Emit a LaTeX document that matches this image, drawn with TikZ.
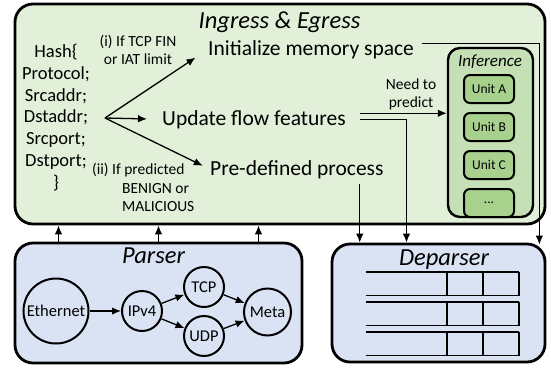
\documentclass[tikz,border=0pt]{standalone}
\usepackage{fontspec}
\setmainfont{Carlito}
\usetikzlibrary{arrows.meta,positioning}

\definecolor{ingreen}{HTML}{E2F0D9}
\definecolor{infgreen}{HTML}{C5E0B4}
\definecolor{unitgreen}{HTML}{A9D18E}
\definecolor{parblue}{HTML}{DAE3F3}

\begin{document}
\begin{tikzpicture}[x=1pt,y=-1pt,
    box/.style={draw,line width=2.8pt,rounded corners=18pt},
    title/.style={font=\fontsize{24.5}{29}\selectfont\itshape,anchor=base},
    txt/.style={font=\fontsize{21.5}{26}\selectfont,inner sep=0pt,anchor=base west},
    note/.style={font=\fontsize{15.5}{18.5}\selectfont,inner sep=0pt},
    unit/.style={draw,line width=2pt,fill=unitgreen,rounded corners=6pt,
        minimum width=50pt,minimum height=28pt,font=\fontsize{13.5}{16}\selectfont},
    hdr/.style={draw,circle,line width=2pt,inner sep=0pt,font=\fontsize{16.5}{20}\selectfont},
    arr/.style={-{Latex[length=9pt,width=7.5pt]},line width=1.3pt},
    tab/.style={line width=1.6pt}]

\useasboundingbox (0,0) rectangle (551,368);

% ingress & egress
\node[box,fill=ingreen,minimum width=530pt,minimum height=220pt] (ig) at (280,114) {};
\node[title] (igt) at (279.5,28) {Ingress \& Egress};
\node[align=center,inner sep=0pt,font=\fontsize{18.5}{21.8}\selectfont] (hash) at (56,117.5)
    {Hash\{\\Protocol;\\Srcaddr;\\Dstaddr;\\Srcport;\\Dstport;\\\}};
\coordinate (fork) at (105,118);
\node[txt] (init) at (208,55) {Initialize memory space};
\node[txt] (upd) at (162,125) {Update flow features};
\node[txt] (pre) at (210,175) {Pre-defined process};
\draw[arr,shorten >=15pt] (fork) -- (init.west);
\draw[arr,shorten >=15pt] (fork) -- (upd.west);
\draw[arr,shorten >=8pt] (fork) -- (pre.west);
\node[note,align=center] (cond1) at (138,50) {(i) If TCP FIN\\or IAT limit};
\node[note,align=left,anchor=west] (cond2) at (92,187.5)
    {(ii) If predicted\\\hspace*{30pt}BENIGN or\\\hspace*{30pt}MALICIOUS};

% inference
\node[draw,line width=2.4pt,fill=infgreen,rounded corners=12pt,minimum width=85pt,minimum height=169pt] (inf) at (490.5,132.5) {};
\node[font=\fontsize{17}{20}\selectfont\itshape,anchor=base] (inft) at (490,66) {Inference};
\node[unit] (ua) at (489,89) {Unit A};
\node[unit,below=8pt of ua] (ub) {Unit B};
\node[unit,below=8pt of ub] (uc) {Unit C};
\node[unit,below=8pt of uc] (ud) {...};
\node[note,align=center] (need) at (411,94.5) {Need to\\predict};

% parser
\node[box,fill=parblue,minimum width=287pt,minimum height=120pt] (par) at (158.5,303) {};
\node[title] (part) at (153.5,263) {Parser};
\node[hdr,minimum size=65pt] (eth) at (56,311) {Ethernet};
\node[hdr,minimum size=40pt] (ip) at (142,311) {IPv4};
\node[hdr,minimum size=40pt] (tcp) at (204,287) {TCP};
\node[hdr,minimum size=40pt] (udp) at (204,336) {UDP};
\node[hdr,minimum size=47pt] (meta) at (267.5,312) {Meta};
\draw[arr] (eth) -- (ip);
\draw[arr] (ip) -- (tcp);
\draw[arr] (ip) -- (udp);
\draw[arr] (tcp) -- (meta);
\draw[arr] (udp) -- (meta);
\foreach \dx in {-100,0,100}
    \draw[arr] ([xshift=\dx pt]par.north) -- ([xshift=\dx pt]par.north |- ig.south);

% deparser
\node[box,fill=parblue,minimum width=213pt,minimum height=118pt] (dep) at (438.5,303) {};
\node[title] (dept) at (444,265) {Deparser};
\foreach \y in {272,302,332} {
    \draw[tab] (366,\y) -- (519,\y) (366,\y+23.5) -- (519,\y+23.5);
    \foreach \x in {447,483,519}
        \draw[tab] (\x,\y) -- (\x,\y+23.5);
}

% connections to inference and deparser
\draw[arr] ([xshift=8pt,yshift=6pt]init.east) -| ([xshift=-7pt,yshift=-2pt]dep.north east);
\draw[arr] ([xshift=14pt,yshift=6pt]upd.east) -- ([yshift=6pt]upd.east -| inf.west);
\draw[arr] ([xshift=14pt]upd.east) -| ([xshift=-32pt]dep.north);
\draw[arr] ([xshift=-24pt,yshift=-5pt]pre.south east) -- ([xshift=-24pt]pre.south east |- dep.north);
\end{tikzpicture}
\end{document}
